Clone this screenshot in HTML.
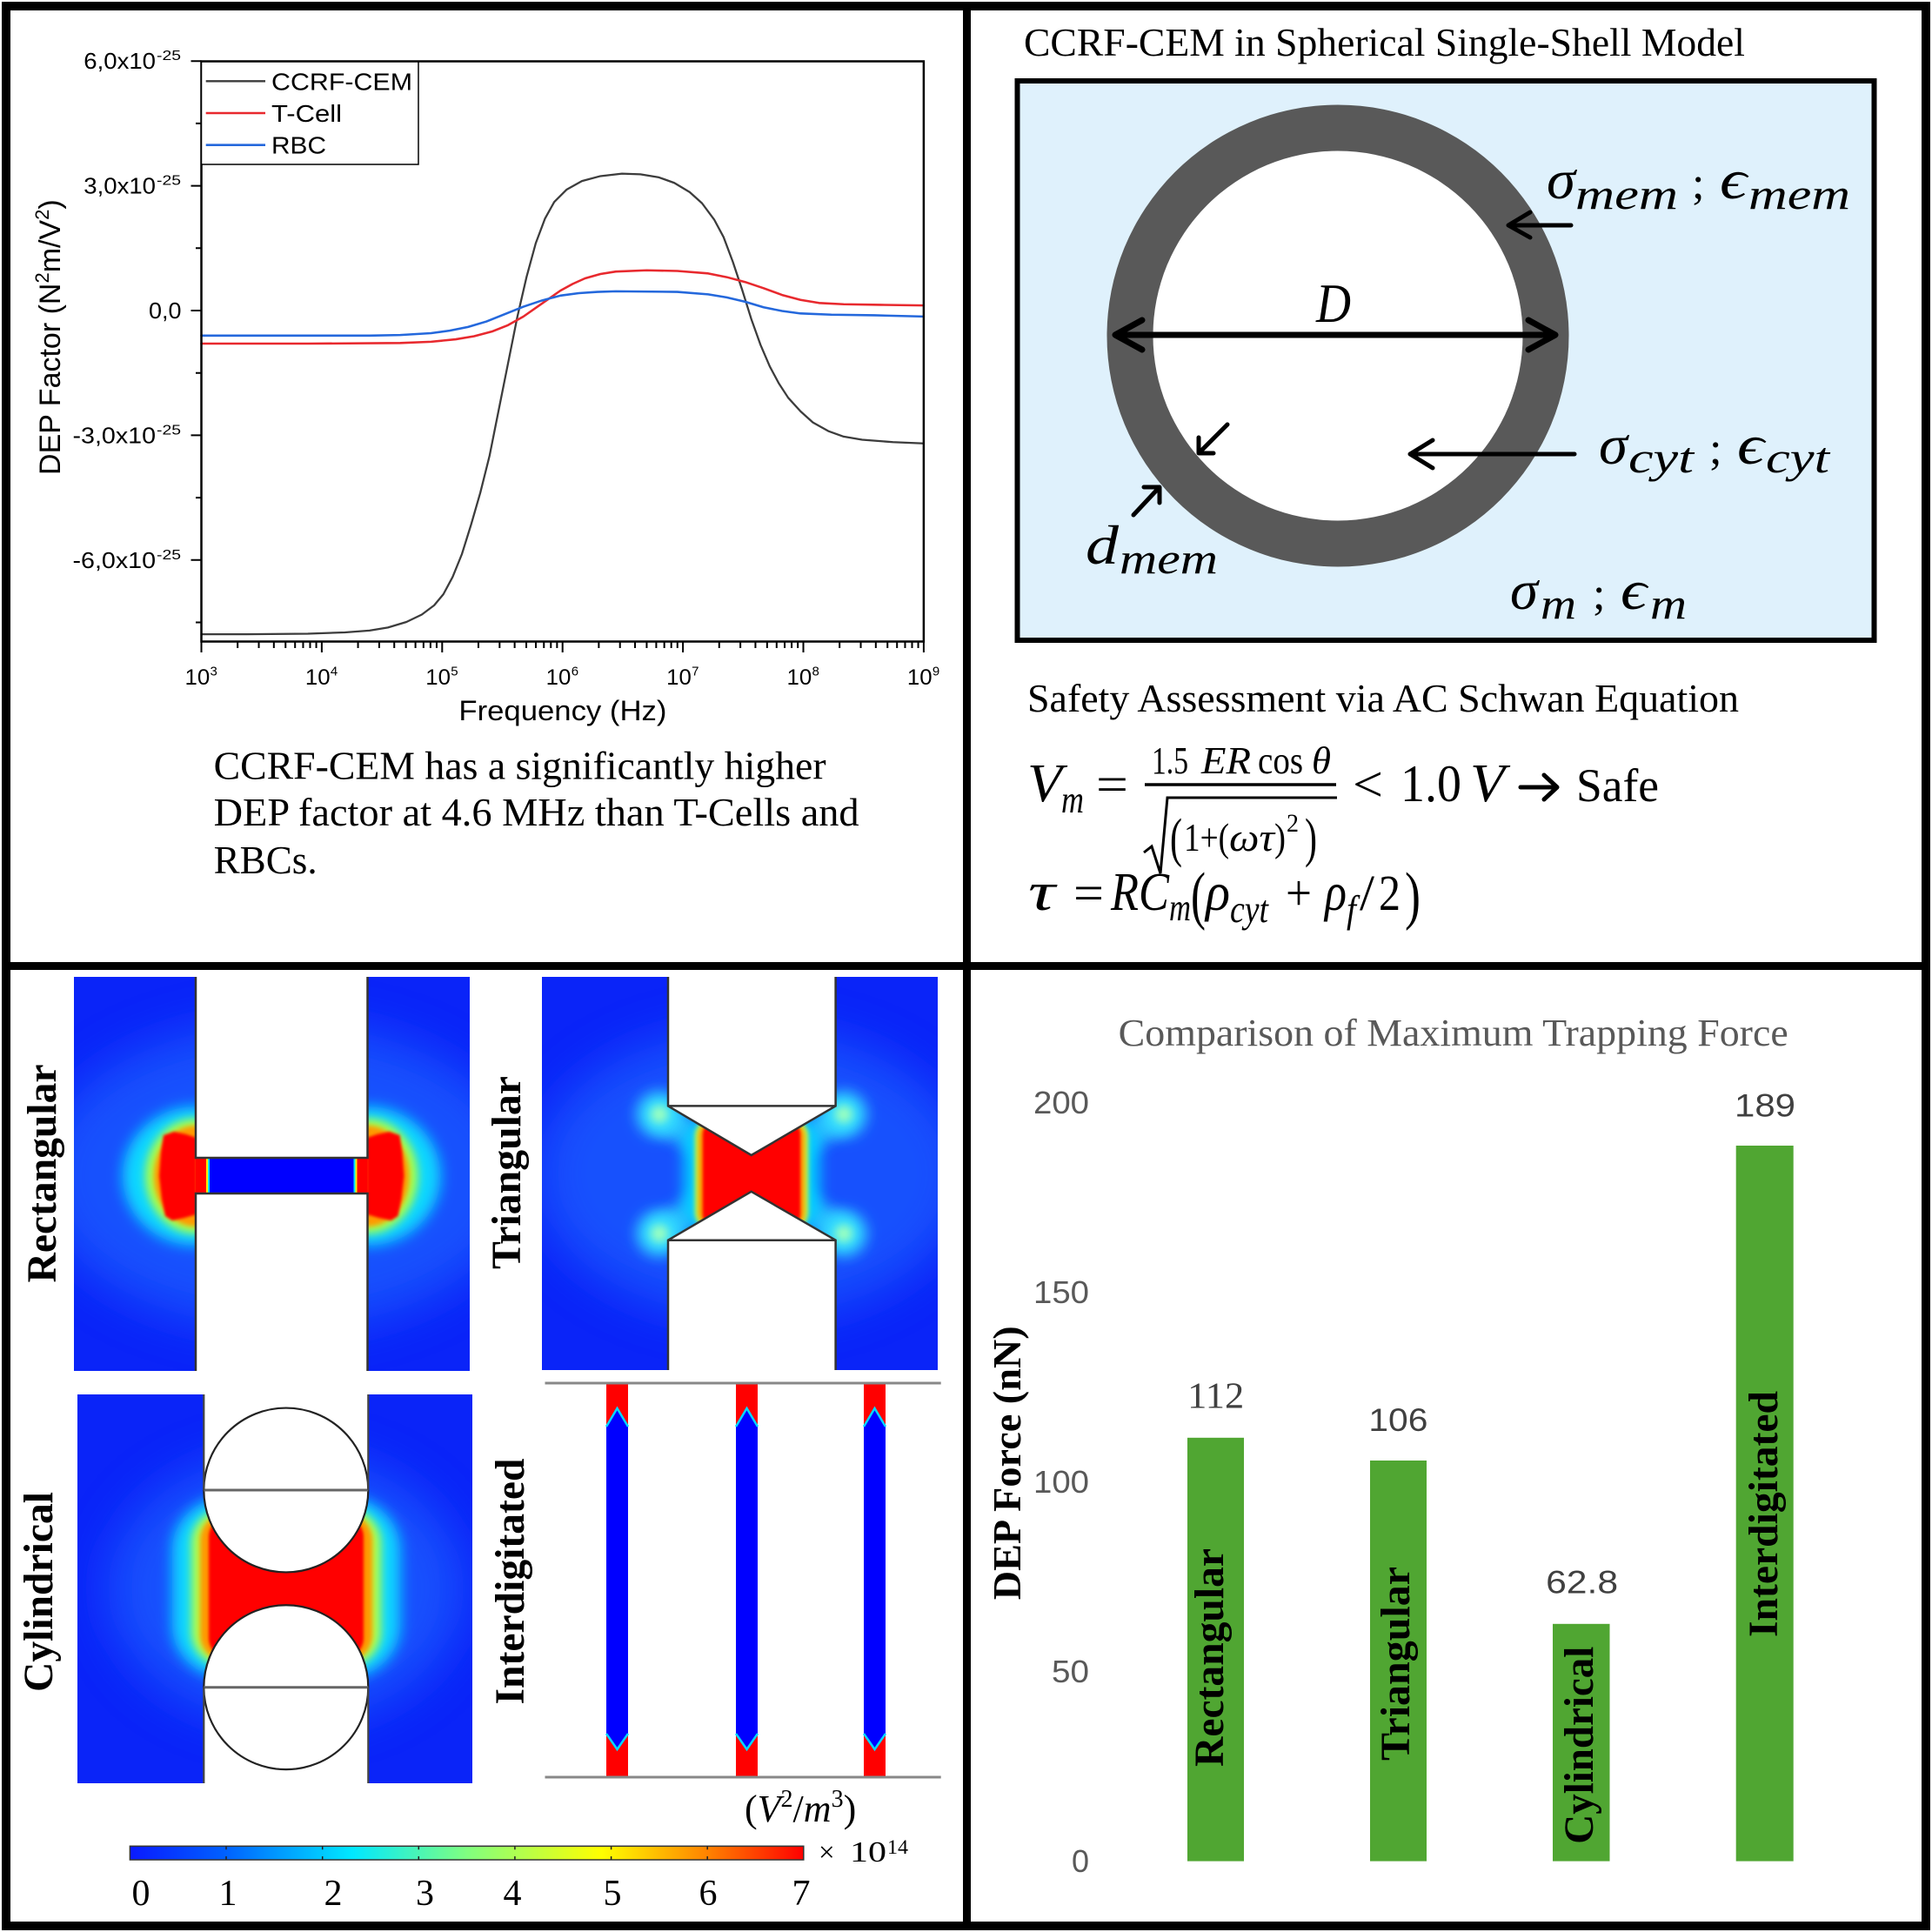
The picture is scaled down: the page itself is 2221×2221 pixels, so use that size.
<!DOCTYPE html>
<html><head><meta charset="utf-8">
<style>
html,body{margin:0;padding:0;background:#fff;}
svg{display:block;}
.sans{font-family:"Liberation Sans",Arial,sans-serif;}
.serif{font-family:"Liberation Serif","Times New Roman",serif;}
.mi{font-family:"Liberation Serif","DejaVu Serif",serif;font-style:italic;}
.mu{font-family:"Liberation Serif","DejaVu Serif",serif;}
</style></head><body>
<svg width="2221" height="2221" viewBox="0 0 2221 2221" xmlns="http://www.w3.org/2000/svg" xmlns:xlink="http://www.w3.org/1999/xlink">
<defs>
 <filter id="b1" x="-50%" y="-50%" width="200%" height="200%"><feGaussianBlur stdDeviation="1.5"/></filter>
 <filter id="b3" x="-50%" y="-50%" width="200%" height="200%"><feGaussianBlur stdDeviation="3"/></filter>
 <filter id="b5" x="-50%" y="-50%" width="200%" height="200%"><feGaussianBlur stdDeviation="5"/></filter>
 <filter id="b8" x="-50%" y="-50%" width="200%" height="200%"><feGaussianBlur stdDeviation="8"/></filter>
 <filter id="b28" x="-50%" y="-50%" width="200%" height="200%"><feGaussianBlur stdDeviation="28"/></filter>
 <linearGradient id="cb" x1="0" y1="0" x2="1" y2="0">
  <stop offset="0" stop-color="#0a1aff"/>
  <stop offset="0.14" stop-color="#0060ff"/>
  <stop offset="0.33" stop-color="#00e8ff"/>
  <stop offset="0.5" stop-color="#80ff80"/>
  <stop offset="0.7" stop-color="#ffff00"/>
  <stop offset="0.86" stop-color="#ff8000"/>
  <stop offset="1" stop-color="#ff0000"/>
 </linearGradient>
 <clipPath id="c1"><rect x="85" y="1123" width="455" height="453"/></clipPath>
 <clipPath id="c2"><rect x="623" y="1123" width="455" height="452"/></clipPath>
 <clipPath id="c3"><rect x="89" y="1603" width="454" height="447"/></clipPath>
 <g id="dec"><path d="M0,737.5V750 M41.66,737.5V745 M66.03,737.5V745 M83.33,737.5V745 M96.74,737.5V745 M107.7,737.5V745 M116.96,737.5V745 M124.99,737.5V745 M132.06,737.5V745" stroke="#000" stroke-width="2" fill="none"/></g>
</defs>

<rect x="0" y="0" width="2221" height="2221" fill="#fff"/>

<!-- ============ PANEL 1: DEP factor chart ============ -->
<g class="sans" fill="#000">
 <g transform="scale(0.70792)" fill="none" stroke-linejoin="round" stroke-linecap="round">
  <polyline stroke="#3c3c3c" stroke-width="3.2" points="327,1030 400,1030 500,1029 560,1027 600,1024 630,1019 660,1010 685,998 705,983 720,965 735,937 750,900 765,852 780,800 795,740 810,665 825,590 840,515 855,450 870,395 885,355 900,328 920,308 945,294 975,286 1010,282 1040,283 1070,288 1095,297 1120,312 1140,330 1160,357 1175,385 1190,425 1205,470 1220,518 1235,560 1250,595 1265,623 1280,646 1300,668 1320,686 1345,700 1370,709 1400,714 1450,718 1500,720"/>
  <polyline stroke="#e8292e" stroke-width="3.6" points="327,558 500,558 650,557 700,555 740,551 770,546 800,538 825,528 850,514 870,500 890,486 910,472 930,461 950,452 975,445 1000,441 1050,439 1100,440 1150,444 1180,450 1210,458 1240,468 1270,479 1300,487 1330,492 1370,494 1430,495 1500,496"/>
  <polyline stroke="#2468dc" stroke-width="3.6" points="327,545 500,545 600,545 650,544 700,541 730,537 760,531 790,522 820,510 850,498 880,488 910,480 940,476 970,474 1000,473 1100,474 1150,478 1180,483 1210,490 1240,499 1270,505 1300,509 1350,511 1420,512 1500,514"/>
 </g>
 <rect x="231.5" y="70.5" width="830.4" height="667" fill="none" stroke="#000" stroke-width="2.5"/>
 <path d="M219.5,70.2H231.5 M219.5,213.6H231.5 M219.5,357H231.5 M219.5,500.4H231.5 M219.5,643.8H231.5 M225,141.9H231.5 M225,285.3H231.5 M225,428.7H231.5 M225,572.1H231.5 M225,715.5H231.5" stroke="#000" stroke-width="2" fill="none"/>
 <use xlink:href="#dec" x="231.5"/>
 <use xlink:href="#dec" x="369.9"/>
 <use xlink:href="#dec" x="508.3"/>
 <use xlink:href="#dec" x="646.7"/>
 <use xlink:href="#dec" x="785.1"/>
 <use xlink:href="#dec" x="923.5"/>
 <path d="M1061.9,737.5V750" stroke="#000" stroke-width="2"/>
 <text x="96.3" y="79.2" font-size="26" textLength="82.7" lengthAdjust="spacingAndGlyphs">6,0x10</text>
 <text x="180" y="69.2" font-size="16" textLength="28" lengthAdjust="spacingAndGlyphs">-25</text>
 <text x="96.3" y="222.6" font-size="26" textLength="82.7" lengthAdjust="spacingAndGlyphs">3,0x10</text>
 <text x="180" y="212.6" font-size="16" textLength="28" lengthAdjust="spacingAndGlyphs">-25</text>
 <text x="171" y="366" font-size="26" textLength="37.5" lengthAdjust="spacingAndGlyphs">0,0</text>
 <text x="83.5" y="509.4" font-size="26" textLength="95.5" lengthAdjust="spacingAndGlyphs">-3,0x10</text>
 <text x="180" y="499.4" font-size="16" textLength="28" lengthAdjust="spacingAndGlyphs">-25</text>
 <text x="83.5" y="652.8" font-size="26" textLength="95.5" lengthAdjust="spacingAndGlyphs">-6,0x10</text>
 <text x="180" y="642.8" font-size="16" textLength="28" lengthAdjust="spacingAndGlyphs">-25</text>
 <text transform="translate(69,387.6) rotate(-90)" text-anchor="middle" font-size="34">DEP Factor (N<tspan font-size="22" dy="-13">2</tspan><tspan dy="13">m/V</tspan><tspan font-size="22" dy="-13">2</tspan><tspan dy="13">)</tspan></text>
 <text x="212.5" y="787" font-size="25" textLength="28.7" lengthAdjust="spacingAndGlyphs">10</text><text x="241.5" y="776.5" font-size="15">3</text>
 <text x="350.9" y="787" font-size="25" textLength="28.7" lengthAdjust="spacingAndGlyphs">10</text><text x="379.9" y="776.5" font-size="15">4</text>
 <text x="489.3" y="787" font-size="25" textLength="28.7" lengthAdjust="spacingAndGlyphs">10</text><text x="518.3" y="776.5" font-size="15">5</text>
 <text x="627.7" y="787" font-size="25" textLength="28.7" lengthAdjust="spacingAndGlyphs">10</text><text x="656.7" y="776.5" font-size="15">6</text>
 <text x="766.1" y="787" font-size="25" textLength="28.7" lengthAdjust="spacingAndGlyphs">10</text><text x="795.1" y="776.5" font-size="15">7</text>
 <text x="904.5" y="787" font-size="25" textLength="28.7" lengthAdjust="spacingAndGlyphs">10</text><text x="933.5" y="776.5" font-size="15">8</text>
 <text x="1042.9" y="787" font-size="25" textLength="28.7" lengthAdjust="spacingAndGlyphs">10</text><text x="1071.9" y="776.5" font-size="15">9</text>
 <text x="527.4" y="828" font-size="32" textLength="239" lengthAdjust="spacingAndGlyphs">Frequency (Hz)</text>
 <rect x="231.5" y="71" width="249.5" height="118" fill="#fff" stroke="#000" stroke-width="1.5"/>
 <line x1="236.7" y1="93.3" x2="305" y2="93.3" stroke="#3c3c3c" stroke-width="2.4"/>
 <line x1="236.7" y1="130" x2="305" y2="130" stroke="#e8292e" stroke-width="2.6"/>
 <line x1="236.7" y1="166.7" x2="305" y2="166.7" stroke="#2468dc" stroke-width="2.6"/>
 <text x="312" y="103.3" font-size="28" textLength="162" lengthAdjust="spacingAndGlyphs">CCRF-CEM</text>
 <text x="312" y="140" font-size="28" textLength="81" lengthAdjust="spacingAndGlyphs">T-Cell</text>
 <text x="312" y="176.7" font-size="28" textLength="63" lengthAdjust="spacingAndGlyphs">RBC</text>
</g>
<g class="serif" fill="#000" font-size="46">
 <text x="245.6" y="895.5" textLength="704" lengthAdjust="spacingAndGlyphs">CCRF-CEM has a significantly higher</text>
 <text x="245.6" y="949" textLength="742" lengthAdjust="spacingAndGlyphs">DEP factor at 4.6 MHz than T-Cells and</text>
 <text x="245.6" y="1004" textLength="119" lengthAdjust="spacingAndGlyphs">RBCs.</text>
</g>

<!-- ============ PANEL 2: single-shell model ============ -->
<text class="serif" x="1177" y="64" font-size="46" textLength="829" lengthAdjust="spacingAndGlyphs">CCRF-CEM in Spherical Single-Shell Model</text>
<rect x="1169.5" y="93" width="985" height="643" fill="#dff1fc" stroke="#000" stroke-width="6"/>
<circle cx="1538" cy="386" r="265.5" fill="#595959"/>
<circle cx="1538" cy="386" r="212.5" fill="#fff"/>
<g stroke="#000" stroke-linecap="round" stroke-linejoin="round" fill="none">
 <line x1="1284" y1="385" x2="1786" y2="385" stroke-width="7"/>
 <polyline points="1313,368 1282,385 1313,402" stroke-width="7"/>
 <polyline points="1757,368 1788,385 1757,402" stroke-width="7"/>
 <line x1="1735" y1="259" x2="1806" y2="259" stroke-width="5"/>
 <polyline points="1759,244 1734,259 1759,273" stroke-width="5"/>
 <line x1="1622" y1="522" x2="1810" y2="522" stroke-width="5"/>
 <polyline points="1647,506 1621,522 1647,538" stroke-width="5"/>
 <line x1="1303" y1="592" x2="1332" y2="561" stroke-width="5"/>
 <polyline points="1315,560 1333,560 1333,578" stroke-width="5"/>
 <line x1="1411" y1="488" x2="1379" y2="520" stroke-width="5"/>
 <polyline points="1378,503 1378,521 1395,521" stroke-width="5"/>
</g>
<g fill="#000">
 <text class="mi" x="1513" y="370" font-size="64" textLength="40" lengthAdjust="spacingAndGlyphs">D</text>
 <!-- sigma mem -->
 <text class="mi" x="1778" y="228" font-size="64" textLength="33" lengthAdjust="spacingAndGlyphs">σ</text>
 <text class="mi" x="1811" y="240" font-size="50" textLength="118" lengthAdjust="spacingAndGlyphs">mem</text>
 <text class="mu" x="1945" y="228" font-size="52">;</text>
 <text class="mi" x="1977" y="228" font-size="64" textLength="31" lengthAdjust="spacingAndGlyphs">ϵ</text>
 <text class="mi" x="2010" y="240" font-size="50" textLength="117" lengthAdjust="spacingAndGlyphs">mem</text>
 <!-- sigma cyt -->
 <text class="mi" x="1838" y="533" font-size="64" textLength="33" lengthAdjust="spacingAndGlyphs">σ</text>
 <text class="mi" x="1872" y="543" font-size="50" textLength="75" lengthAdjust="spacingAndGlyphs">cyt</text>
 <text class="mu" x="1965" y="533" font-size="52">;</text>
 <text class="mi" x="1997" y="533" font-size="64" textLength="31" lengthAdjust="spacingAndGlyphs">ϵ</text>
 <text class="mi" x="2030" y="543" font-size="50" textLength="73" lengthAdjust="spacingAndGlyphs">cyt</text>
 <!-- sigma m -->
 <text class="mi" x="1736" y="700" font-size="64" textLength="32" lengthAdjust="spacingAndGlyphs">σ</text>
 <text class="mi" x="1771" y="711" font-size="50" textLength="41" lengthAdjust="spacingAndGlyphs">m</text>
 <text class="mu" x="1831" y="700" font-size="52">;</text>
 <text class="mi" x="1863" y="700" font-size="64" textLength="30" lengthAdjust="spacingAndGlyphs">ϵ</text>
 <text class="mi" x="1897" y="711" font-size="50" textLength="42" lengthAdjust="spacingAndGlyphs">m</text>
 <!-- d mem -->
 <text class="mi" x="1248" y="648" font-size="64" textLength="38" lengthAdjust="spacingAndGlyphs">d</text>
 <text class="mi" x="1287" y="659" font-size="50" textLength="113" lengthAdjust="spacingAndGlyphs">mem</text>

 <text class="serif" x="1181" y="818" font-size="46" textLength="818" lengthAdjust="spacingAndGlyphs">Safety Assessment via AC Schwan Equation</text>

 <!-- formula 1 -->
 <text class="mi" x="1181" y="921" font-size="62" textLength="40" lengthAdjust="spacingAndGlyphs">V</text>
 <text class="mi" x="1220" y="934" font-size="44" textLength="26" lengthAdjust="spacingAndGlyphs">m</text>
 <text class="mu" x="1260" y="921" font-size="58" textLength="37" lengthAdjust="spacingAndGlyphs">=</text>
 <text class="mu" x="1324" y="889" font-size="44" textLength="42" lengthAdjust="spacingAndGlyphs">1.5</text>
 <text class="mi" x="1381" y="889" font-size="44" textLength="57" lengthAdjust="spacingAndGlyphs">ER</text>
 <text class="mu" x="1446" y="889" font-size="44" textLength="52" lengthAdjust="spacingAndGlyphs">cos</text>
 <text class="mi" x="1508" y="889" font-size="44" textLength="22" lengthAdjust="spacingAndGlyphs">θ</text>
 <line x1="1316" y1="902" x2="1536" y2="902" stroke="#000" stroke-width="3.5"/>
 <polyline points="1315,980 1324,973 1334,1004 1342,917 1537,917" fill="none" stroke="#000" stroke-width="3"/>
 <text class="mu" x="1345" y="984" font-size="62" textLength="14" lengthAdjust="spacingAndGlyphs">(</text>
 <text class="mu" x="1361" y="978" font-size="46" textLength="52" lengthAdjust="spacingAndGlyphs">1+(</text>
 <text class="mi" x="1413" y="978" font-size="46" textLength="52" lengthAdjust="spacingAndGlyphs">ωτ</text>
 <text class="mu" x="1465" y="978" font-size="46" textLength="13" lengthAdjust="spacingAndGlyphs">)</text>
 <text class="mu" x="1479" y="956" font-size="30" textLength="14" lengthAdjust="spacingAndGlyphs">2</text>
 <text class="mu" x="1500" y="984" font-size="62" textLength="14" lengthAdjust="spacingAndGlyphs">)</text>
 <text class="mu" x="1555" y="921" font-size="58" textLength="35" lengthAdjust="spacingAndGlyphs">&lt;</text>
 <text class="mu" x="1610" y="921" font-size="60" textLength="70" lengthAdjust="spacingAndGlyphs">1.0</text>
 <text class="mi" x="1690" y="921" font-size="62" textLength="40" lengthAdjust="spacingAndGlyphs">V</text>
 <g stroke="#000" stroke-width="5" fill="none" stroke-linecap="round" stroke-linejoin="round">
  <line x1="1748" y1="905" x2="1788" y2="905"/>
  <polyline points="1775,891 1790,905 1775,919"/>
 </g>
 <text class="serif" x="1812" y="921" font-size="54" textLength="95" lengthAdjust="spacingAndGlyphs">Safe</text>
 <!-- formula 2 -->
 <text class="mi" x="1182" y="1046" font-size="62" textLength="31" lengthAdjust="spacingAndGlyphs">τ</text>
 <text class="mu" x="1234" y="1046" font-size="58" textLength="35" lengthAdjust="spacingAndGlyphs">=</text>
 <text class="mi" x="1277" y="1046" font-size="62" textLength="67" lengthAdjust="spacingAndGlyphs">RC</text>
 <text class="mi" x="1344" y="1058" font-size="44" textLength="25" lengthAdjust="spacingAndGlyphs">m</text>
 <text class="mu" x="1369" y="1054" font-size="74" textLength="17" lengthAdjust="spacingAndGlyphs">(</text>
 <text class="mi" x="1386" y="1046" font-size="62" textLength="28" lengthAdjust="spacingAndGlyphs">ρ</text>
 <text class="mi" x="1414" y="1060" font-size="44" textLength="44" lengthAdjust="spacingAndGlyphs">cyt</text>
 <text class="mu" x="1478" y="1046" font-size="58" textLength="30" lengthAdjust="spacingAndGlyphs">+</text>
 <text class="mi" x="1523" y="1046" font-size="62" textLength="25" lengthAdjust="spacingAndGlyphs">ρ</text>
 <text class="mi" x="1548" y="1060" font-size="44" textLength="11" lengthAdjust="spacingAndGlyphs">f</text>
 <text class="mu" x="1563" y="1046" font-size="58" textLength="17" lengthAdjust="spacingAndGlyphs">/</text>
 <text class="mu" x="1585" y="1046" font-size="58" textLength="25" lengthAdjust="spacingAndGlyphs">2</text>
 <text class="mu" x="1615" y="1054" font-size="74" textLength="18" lengthAdjust="spacingAndGlyphs">)</text>
</g>

<!-- ============ PANEL 3: heatmaps ============ -->
<!-- Rectangular -->
<g clip-path="url(#c1)">
 <rect x="85" y="1123" width="455" height="453" fill="#0a24f8"/>
 <ellipse cx="323.75" cy="1352" rx="280" ry="175" fill="#1a60ff" opacity="0.75" filter="url(#b28)"/>
 <g id="rhalo">
  <ellipse cx="225" cy="1352" rx="84" ry="80" fill="#10d8ff" filter="url(#b8)"/>
  <ellipse cx="225" cy="1352" rx="58" ry="66" fill="#a8ff48" filter="url(#b5)"/>
  <ellipse cx="225" cy="1352" rx="48" ry="58" fill="#ff9a00" filter="url(#b3)"/>
  <polygon points="188,1305 200,1301 214,1304 226,1308 226,1396 212,1400 198,1403 190,1398 186,1378 183,1352 185,1325" fill="#ff0000" filter="url(#b1)"/>
 </g>
 <use xlink:href="#rhalo" transform="translate(647.5,0) scale(-1,1)"/>
 <rect x="225" y="1331" width="197.5" height="41" fill="#ff0000"/>
 <rect x="237" y="1331" width="173.5" height="41" fill="#ffee00"/>
 <rect x="239" y="1331" width="169.5" height="41" fill="#00e0ff"/>
 <rect x="241" y="1331" width="165.5" height="41" fill="#0000ff"/>
 <rect x="225" y="1123" width="197.5" height="208" fill="#fff"/>
 <rect x="225" y="1372" width="197.5" height="204" fill="#fff"/>
 <path d="M225,1123V1331H422.5V1123 M225,1576V1372H422.5V1576" fill="none" stroke="#333" stroke-width="2.5"/>
</g>
<!-- Triangular -->
<g clip-path="url(#c2)">
 <rect x="623" y="1123" width="455" height="452" fill="#0a24f8"/>
 <ellipse cx="864" cy="1349" rx="250" ry="165" fill="#1a60ff" opacity="0.75" filter="url(#b28)"/>
 <path d="M758,1281L864,1349L970,1281 M758,1418L864,1349L970,1418" stroke="#28c8ff" stroke-width="34" fill="none" opacity="0.85" filter="url(#b8)"/>
 <g filter="url(#b8)" fill="#30dcff">
  <circle cx="758" cy="1281" r="26"/><circle cx="970" cy="1281" r="26"/>
  <circle cx="758" cy="1418" r="26"/><circle cx="970" cy="1418" r="26"/>
 </g>
 <g filter="url(#b5)" fill="#9affc0">
  <circle cx="758" cy="1281" r="10"/><circle cx="970" cy="1281" r="10"/>
  <circle cx="758" cy="1418" r="10"/><circle cx="970" cy="1418" r="10"/>
 </g>
 <rect x="786" y="1282" width="156" height="136" rx="40" fill="#00d0ff" filter="url(#b8)"/>
 <rect x="799" y="1286" width="130" height="128" rx="20" fill="#c8ff38" filter="url(#b3)"/>
 <rect x="803" y="1288" width="122" height="124" rx="18" fill="#ff9000" filter="url(#b3)"/>
 <rect x="808" y="1290" width="112" height="120" rx="14" fill="#ff0000" filter="url(#b1)"/>
 <polygon points="768,1123 960.6,1123 960.6,1271.4 863.7,1328 768,1271.4" fill="#fff"/>
 <polygon points="768,1576 768,1425.7 863.7,1369.8 960.6,1425.7 960.6,1576" fill="#fff"/>
 <path d="M768,1123V1271.4L863.7,1328L960.6,1271.4V1123 M768,1271.4H960.6 M768,1576V1425.7L863.7,1369.8L960.6,1425.7V1576 M768,1425.7H960.6" fill="none" stroke="#333" stroke-width="2.5"/>
</g>
<!-- Cylindrical -->
<g clip-path="url(#c3)">
 <rect x="89" y="1603" width="454" height="447" fill="#0a24f8"/>
 <ellipse cx="328.8" cy="1826" rx="205" ry="155" fill="#1a60ff" opacity="0.75" filter="url(#b28)"/>
 <rect x="198" y="1722" width="262" height="206" rx="60" fill="#10d8ff" filter="url(#b8)"/>
 <rect x="220" y="1734" width="218" height="182" rx="40" fill="#b0ff48" filter="url(#b5)"/>
 <rect x="230" y="1739" width="198" height="172" rx="32" fill="#ff9800" filter="url(#b3)"/>
 <rect x="240" y="1743" width="178" height="164" rx="24" fill="#ff0000" filter="url(#b1)"/>
 <rect x="234.3" y="1603" width="189" height="110" fill="#fff"/>
 <rect x="234.3" y="1939.7" width="189" height="111" fill="#fff"/>
 <circle cx="328.8" cy="1713" r="94.5" fill="#fff"/>
 <circle cx="328.8" cy="1939.7" r="94.5" fill="#fff"/>
 <path d="M234.3,1713A94.5,94.5 0 0 0 423.3,1713 M234.3,1939.7A94.5,94.5 0 0 1 423.3,1939.7" fill="none" stroke="#222" stroke-width="2.2"/>
 <path d="M234.3,1713A94.5,94.5 0 0 1 423.3,1713 M234.3,1939.7A94.5,94.5 0 0 0 423.3,1939.7" fill="none" stroke="#222" stroke-width="2.2"/>
 <path d="M234.3,1713H423.3 M234.3,1939.7H423.3" stroke="#666" stroke-width="3"/>
 <path d="M234.3,1603V1713 M423.3,1603V1713 M234.3,1939.7V2050 M423.3,1939.7V2050" stroke="#444" stroke-width="2.2"/>
</g>
<!-- Interdigitated -->
<path d="M626.5,1590H1081.7 M626.5,2043H1081.7" stroke="#888" stroke-width="3"/>
<g id="strip">
 <rect x="697" y="1591.5" width="25" height="450" fill="#ff0000"/>
 <polygon points="697,1640 709.5,1619 722,1640 722,1993 709.5,2011 697,1993" fill="#0000ff"/>
 <polyline points="697,1640 709.5,1619 722,1640" fill="none" stroke="#00d8ff" stroke-width="2.5"/>
 <polyline points="697,1993 709.5,2011 722,1993" fill="none" stroke="#00d8ff" stroke-width="2.5"/>
</g>
<use xlink:href="#strip" x="149"/>
<use xlink:href="#strip" x="296"/>
<g class="serif" font-weight="bold" font-size="48" fill="#000">
 <text transform="translate(64,1349) rotate(-90)" text-anchor="middle" textLength="251" lengthAdjust="spacingAndGlyphs">Rectangular</text>
 <text transform="translate(598,1348) rotate(-90)" text-anchor="middle" textLength="222" lengthAdjust="spacingAndGlyphs">Triangular</text>
 <text transform="translate(60,1830) rotate(-90)" text-anchor="middle" textLength="230" lengthAdjust="spacingAndGlyphs">Cylindrical</text>
 <text transform="translate(602,1818) rotate(-90)" text-anchor="middle" textLength="283" lengthAdjust="spacingAndGlyphs">Interdigitated</text>
</g>
<!-- colorbar -->
<rect x="149.4" y="2122.3" width="774.4" height="15.7" fill="url(#cb)" stroke="#333" stroke-width="1.5"/>
<path d="M260,2122.3v4 M370.7,2122.3v4 M481.3,2122.3v4 M591.9,2122.3v4 M702.6,2122.3v4 M813.2,2122.3v4 M260,2138v-4 M370.7,2138v-4 M481.3,2138v-4 M591.9,2138v-4 M702.6,2138v-4 M813.2,2138v-4" stroke="#222" stroke-width="1.5"/>
<g class="mu" font-size="42" fill="#000" text-anchor="middle">
 <text x="162" y="2190">0</text>
 <text x="262" y="2190">1</text>
 <text x="383" y="2190">2</text>
 <text x="488.5" y="2190">3</text>
 <text x="589" y="2190">4</text>
 <text x="704" y="2190">5</text>
 <text x="814" y="2190">6</text>
 <text x="921" y="2190">7</text>
</g>
<g class="mu" fill="#000">
 <text x="941" y="2140" font-size="33">×</text>
 <text x="977" y="2140" font-size="34" textLength="42" lengthAdjust="spacingAndGlyphs">10</text>
 <text x="1020" y="2131" font-size="23" textLength="24" lengthAdjust="spacingAndGlyphs">14</text>
 <text x="856" y="2094" font-size="44">(<tspan font-style="italic">V</tspan><tspan font-size="28" dy="-17">2</tspan><tspan dy="17">/</tspan><tspan font-style="italic">m</tspan><tspan font-size="28" dy="-17">3</tspan><tspan dy="17">)</tspan></text>
</g>

<!-- ============ PANEL 4: bar chart ============ -->
<text class="serif" x="1285.7" y="1202" font-size="44" fill="#595959" textLength="770" lengthAdjust="spacingAndGlyphs">Comparison of Maximum Trapping Force</text>
<g class="sans" fill="#595959" font-size="36" text-anchor="end">
 <text x="1252" y="1280" textLength="64" lengthAdjust="spacingAndGlyphs">200</text>
 <text x="1252" y="1498" textLength="64" lengthAdjust="spacingAndGlyphs">150</text>
 <text x="1252" y="1716" textLength="64" lengthAdjust="spacingAndGlyphs">100</text>
 <text x="1252" y="1934" textLength="43" lengthAdjust="spacingAndGlyphs">50</text>
 <text x="1252" y="2152">0</text>
</g>
<g fill="#50a632">
 <rect x="1365" y="1652.8" width="65" height="486.8"/>
 <rect x="1575" y="1679" width="65" height="460.6"/>
 <rect x="1785" y="1866.8" width="65.5" height="272.8"/>
 <rect x="1995.7" y="1317" width="66" height="822.6"/>
</g>
<g fill="#404040" text-anchor="middle">
 <text class="serif" x="1397.7" y="1618.7" font-size="42" textLength="65" lengthAdjust="spacingAndGlyphs">112</text>
 <text class="sans" x="1607.4" y="1645" font-size="37" textLength="68" lengthAdjust="spacingAndGlyphs">106</text>
 <text class="sans" x="1818.6" y="1831.3" font-size="37" textLength="83" lengthAdjust="spacingAndGlyphs">62.8</text>
 <text class="sans" x="2029" y="1283.6" font-size="37" textLength="70" lengthAdjust="spacingAndGlyphs">189</text>
</g>
<g class="serif" font-weight="bold" fill="#000">
 <text transform="translate(1173,1681.8) rotate(-90)" text-anchor="middle" font-size="46" textLength="315" lengthAdjust="spacingAndGlyphs">DEP Force (nN)</text>
 <text transform="translate(1406,2031) rotate(-90)" font-size="48" textLength="251" lengthAdjust="spacingAndGlyphs">Rectangular</text>
 <text transform="translate(1620,2024) rotate(-90)" font-size="48" textLength="223" lengthAdjust="spacingAndGlyphs">Triangular</text>
 <text transform="translate(1831,2119.7) rotate(-90)" font-size="48" textLength="227" lengthAdjust="spacingAndGlyphs">Cylindrical</text>
 <text transform="translate(2043,1882) rotate(-90)" font-size="48" textLength="283" lengthAdjust="spacingAndGlyphs">Interdigitated</text>
</g>

<!-- ============ Frame / dividers ============ -->
<rect x="7" y="7" width="2207" height="2207" fill="none" stroke="#000" stroke-width="10"/>
<rect x="1107" y="7" width="9" height="2207" fill="#000"/>
<rect x="7" y="1106" width="2207" height="9" fill="#000"/>
</svg>
</body></html>
